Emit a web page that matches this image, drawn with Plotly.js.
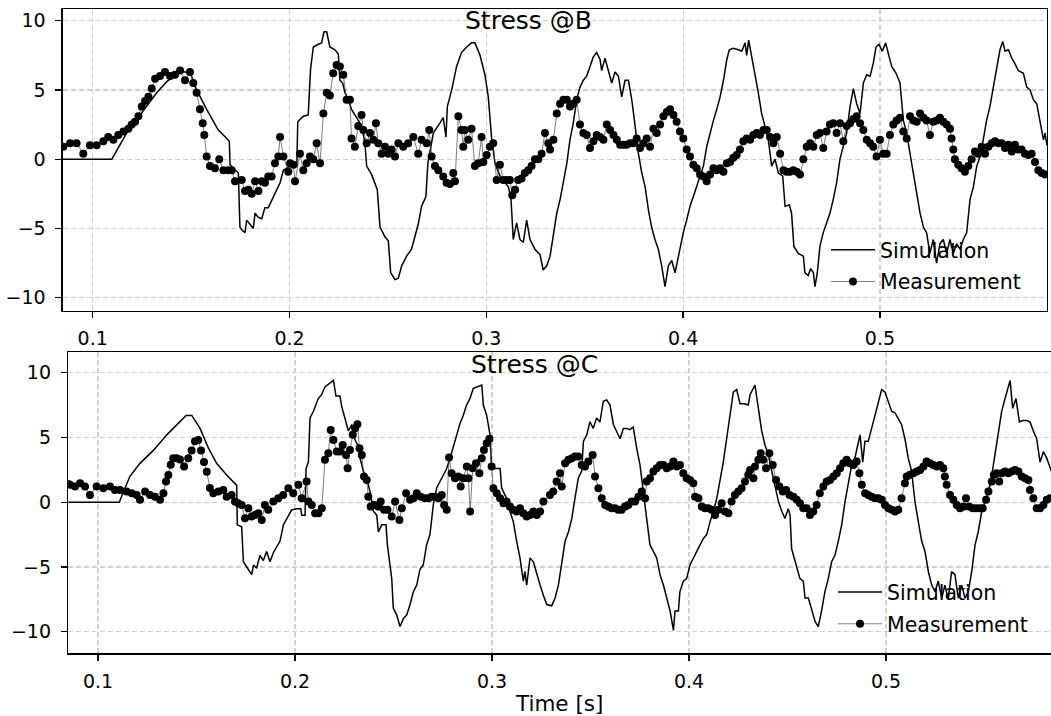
<!DOCTYPE html>
<html>
<head>
<meta charset="utf-8">
<script src="https://cdn.plot.ly/plotly-3.0.1.min.js"></script>
<style>
html,body{margin:0;padding:0;background:#ffffff;}
#chart{width:1051px;height:716px;}
</style>
</head>
<body>
<div id="chart"></div>
<script>
// ---------- Stress @B : simulation ----------
const timeSimB = [0.0849,0.1097,0.1173,0.1257,0.1325,0.1376,0.1444,0.1494,0.1528,0.1579,0.1638,0.1681,0.1694,0.1698,0.1740,0.1748,0.1757,0.1774,0.1782,0.1799,0.1816,0.1825,0.1842,0.1859,0.1875,0.1892,0.1909,0.1935,0.1952,0.1969,0.2003,0.2037,0.2042,0.2070,0.2095,0.2107,0.2121,0.2146,0.2163,0.2175,0.2189,0.2205,0.2231,0.2248,0.2256,0.2270,0.2282,0.2299,0.2315,0.2341,0.2366,0.2383,0.2392,0.2417,0.2446,0.2460,0.2485,0.2502,0.2514,0.2536,0.2553,0.2570,0.2595,0.2620,0.2637,0.2654,0.2671,0.2693,0.2703,0.2717,0.2731,0.2764,0.2781,0.2795,0.2802,0.2824,0.2849,0.2874,0.2900,0.2925,0.2942,0.2968,0.2993,0.3010,0.3027,0.3044,0.3069,0.3112,0.3125,0.3137,0.3154,0.3171,0.3188,0.3205,0.3222,0.3247,0.3273,0.3289,0.3307,0.3324,0.3341,0.3358,0.3375,0.3392,0.3409,0.3425,0.3442,0.3459,0.3476,0.3493,0.3510,0.3527,0.3544,0.3561,0.3578,0.3586,0.3603,0.3620,0.3637,0.3654,0.3671,0.3688,0.3705,0.3722,0.3739,0.3756,0.3773,0.3790,0.3807,0.3824,0.3840,0.3857,0.3874,0.3891,0.3908,0.3925,0.3942,0.3959,0.3971,0.3984,0.4001,0.4018,0.4035,0.4052,0.4069,0.4086,0.4103,0.4120,0.4137,0.4154,0.4171,0.4188,0.4205,0.4222,0.4235,0.4255,0.4281,0.4298,0.4315,0.4323,0.4333,0.4349,0.4366,0.4382,0.4399,0.4416,0.4433,0.4450,0.4467,0.4484,0.4506,0.4518,0.4540,0.4551,0.4563,0.4585,0.4611,0.4619,0.4636,0.4648,0.4662,0.4670,0.4682,0.4695,0.4712,0.4729,0.4746,0.4763,0.4780,0.4797,0.4814,0.4831,0.4848,0.4865,0.4882,0.4899,0.4916,0.4933,0.4950,0.4966,0.4980,0.4995,0.5012,0.5029,0.5043,0.5060,0.5082,0.5102,0.5119,0.5136,0.5153,0.5170,0.5187,0.5204,0.5221,0.5237,0.5254,0.5271,0.5288,0.5305,0.5322,0.5339,0.5356,0.5373,0.5390,0.5407,0.5424,0.5441,0.5458,0.5475,0.5492,0.5509,0.5525,0.5542,0.5559,0.5576,0.5593,0.5610,0.5624,0.5636,0.5653,0.5670,0.5686,0.5703,0.5729,0.5746,0.5763,0.5780,0.5797,0.5814,0.5831,0.5839,0.5849];
const stressSimB = [0,0,1.9,3.5,4.8,5.6,6.3,6.3,5.0,3.6,2.1,1.5,1.3,-0.4,-1.0,-4.9,-5.1,-5.3,-4.4,-4.7,-5.0,-3.9,-4.2,-4.3,-3.5,-3.5,-3.0,-2.2,-1.7,-0.8,-0.5,-0.5,2.7,3.1,3.2,6.5,8.1,8.3,8.4,9.2,9.2,8.1,7.9,7.6,5.7,5.5,4.8,4.3,3.6,3.0,2.4,1.2,-0.5,-1.1,-2.2,-4.9,-5.6,-5.9,-8.2,-8.7,-8.6,-7.7,-7.0,-6.5,-5.6,-4.7,-3.4,-2.7,-0.3,0.9,1.9,2.6,3.0,1.6,3.8,5.0,6.7,7.7,8.1,8.4,8.4,7.5,6.1,4.5,1.5,-0.3,-1.2,-2.0,-2.8,-5.8,-4.6,-5.8,-6.0,-4.4,-5.8,-6.5,-6.9,-8.0,-7.7,-7.0,-5.3,-3.9,-2.9,-1.7,-0.3,1.4,2.6,4.3,5.2,5.7,6.0,6.7,7.4,7.7,7.2,6.4,7.3,6.4,5.5,6.3,6.0,4.5,5.7,5.7,4.3,2.4,0.4,-1.0,-2.0,-3.7,-4.9,-5.8,-6.5,-7.7,-9.2,-7.7,-7.3,-8.2,-7.3,-6.3,-5.3,-4.4,-3.4,-2.7,-2.0,-1.3,-0.5,0.9,1.9,2.8,3.6,4.5,5.7,7.2,7.9,8.0,7.9,7.8,8.4,7.5,8.6,7.4,6.2,4.8,3.3,2.4,1.4,-0.5,0.0,-1.0,-1.2,-3.4,-3.3,-3.9,-6.3,-6.8,-7.0,-8.2,-8.4,-7.9,-8.2,-9.2,-8.2,-6.3,-5.3,-4.6,-3.9,-2.9,-1.7,0.0,0.9,1.9,3.8,5.1,4.0,3.3,5.5,6.1,6.0,6.9,8.1,8.3,7.8,8.4,7.6,6.7,6.2,5.5,2.8,1.9,0.4,-1.0,-2.5,-3.9,-4.9,-5.3,-6.8,-5.8,-7.5,-6.1,-5.8,-6.8,-5.8,-6.8,-6.1,-6.5,-5.8,-5.3,-2.9,-2.0,-0.5,0.2,1.4,2.8,3.8,5.2,6.7,7.9,8.5,7.8,7.9,7.3,6.9,6.4,6.2,5.2,5.0,4.3,4.0,2.8,1.4,1.9,1.0];

// ---------- Stress @B : measurement ----------
const timeMeasB = [0.0851,0.0885,0.0918,0.0952,0.0986,0.1020,0.1054,0.1079,0.1105,0.1130,0.1156,0.1181,0.1198,0.1215,0.1232,0.1249,0.1266,0.1283,0.1300,0.1317,0.1342,0.1367,0.1393,0.1418,0.1444,0.1469,0.1494,0.1511,0.1528,0.1545,0.1559,0.1567,0.1579,0.1596,0.1621,0.1643,0.1664,0.1689,0.1706,0.1723,0.1757,0.1774,0.1791,0.1808,0.1825,0.1842,0.1859,0.1875,0.1892,0.1909,0.1926,0.1943,0.1952,0.1969,0.1994,0.2003,0.2020,0.2028,0.2053,0.2070,0.2087,0.2104,0.2121,0.2138,0.2155,0.2172,0.2189,0.2205,0.2222,0.2239,0.2256,0.2273,0.2290,0.2307,0.2315,0.2332,0.2349,0.2366,0.2375,0.2392,0.2409,0.2426,0.2439,0.2451,0.2468,0.2485,0.2502,0.2519,0.2536,0.2553,0.2578,0.2603,0.2629,0.2654,0.2671,0.2697,0.2710,0.2722,0.2739,0.2756,0.2781,0.2798,0.2815,0.2832,0.2841,0.2858,0.2874,0.2883,0.2891,0.2908,0.2925,0.2942,0.2959,0.2976,0.2985,0.3002,0.3018,0.3035,0.3052,0.3069,0.3086,0.3103,0.3120,0.3132,0.3146,0.3162,0.3179,0.3196,0.3213,0.3230,0.3247,0.3264,0.3281,0.3298,0.3315,0.3324,0.3341,0.3358,0.3375,0.3392,0.3409,0.3425,0.3442,0.3459,0.3476,0.3493,0.3510,0.3527,0.3544,0.3561,0.3578,0.3595,0.3612,0.3629,0.3646,0.3663,0.3680,0.3696,0.3713,0.3730,0.3747,0.3764,0.3781,0.3798,0.3815,0.3832,0.3849,0.3866,0.3883,0.3900,0.3917,0.3934,0.3951,0.3967,0.3984,0.4001,0.4018,0.4035,0.4052,0.4069,0.4086,0.4103,0.4120,0.4137,0.4154,0.4171,0.4188,0.4205,0.4222,0.4239,0.4255,0.4272,0.4289,0.4306,0.4323,0.4340,0.4357,0.4374,0.4391,0.4408,0.4425,0.4442,0.4459,0.4476,0.4493,0.4510,0.4526,0.4543,0.4560,0.4577,0.4594,0.4611,0.4628,0.4645,0.4662,0.4679,0.4695,0.4712,0.4729,0.4746,0.4763,0.4780,0.4797,0.4814,0.4831,0.4848,0.4865,0.4882,0.4899,0.4916,0.4933,0.4950,0.4966,0.4983,0.5000,0.5017,0.5034,0.5051,0.5068,0.5085,0.5102,0.5119,0.5136,0.5153,0.5170,0.5187,0.5204,0.5221,0.5237,0.5254,0.5271,0.5288,0.5305,0.5322,0.5339,0.5356,0.5364,0.5373,0.5381,0.5398,0.5415,0.5432,0.5449,0.5466,0.5483,0.5500,0.5517,0.5534,0.5551,0.5568,0.5585,0.5602,0.5619,0.5636,0.5653,0.5670,0.5686,0.5703,0.5720,0.5737,0.5754,0.5771,0.5788,0.5805,0.5822,0.5839];
const stressMeasB = [0.9,1.15,1.15,0.4,1.0,1.0,1.3,1.6,1.4,1.75,2.0,2.2,2.5,2.7,3.1,3.8,4.2,4.5,5.1,5.8,6.0,6.3,6.0,6.1,6.4,5.7,6.3,5.5,4.8,3.6,2.6,1.75,0.2,-0.5,-0.65,0.0,-0.8,-0.8,-0.8,-1.6,-1.5,-2.3,-2.2,-2.5,-1.6,-2.3,-1.6,-1.7,-1.25,-1.25,-0.3,0.2,1.6,0.2,-0.9,-0.3,-0.4,-1.6,0.4,-0.8,-0.3,0.2,0.0,1.15,-0.3,3.3,4.8,4.6,6.2,6.8,6.7,6.1,4.3,4.3,1.5,0.9,2.4,3.2,2.1,1.15,1.9,1.4,2.6,1.15,0.4,0.9,0.4,0.7,0.2,1.15,0.9,1.15,1.6,0.4,1.4,1.15,2.1,0.2,-0.5,-0.8,-1.25,-1.7,-1.8,-1.0,-1.6,3.1,2.1,0.9,2.1,1.4,2.2,-0.5,-0.3,1.6,-0.2,0.3,0.9,1.15,-1.5,-0.4,-1.5,-1.5,-1.5,-2.6,-2.2,-1.5,-1.4,-1.0,-0.8,-0.5,0.0,0.0,0.4,1.9,1.15,0.7,1.4,3.3,4.0,4.3,4.3,3.8,4.0,4.3,2.5,1.9,1.75,0.8,1.3,1.75,1.6,1.4,2.5,2.1,1.75,1.4,1.05,1.05,1.05,1.15,1.15,1.5,0.8,1.15,1.5,0.9,2.2,1.9,2.5,3.1,3.4,3.6,3.2,2.7,2.0,1.5,0.7,0.2,-0.4,-0.65,-1.1,-1.25,-1.6,-1.1,-0.65,-0.8,-0.65,-0.9,-0.3,-0.2,0.1,0.3,0.7,1.3,1.5,1.4,1.75,1.9,1.75,2.1,2.1,1.6,1.15,1.6,0.4,-0.8,-0.9,-0.9,-0.8,-0.9,-1.1,0.0,0.9,1.15,0.9,1.75,1.9,0.8,2.0,2.5,2.6,1.9,2.6,1.3,2.4,2.6,2.9,3.1,2.6,2.1,1.4,1.15,0.9,0.2,1.4,0.4,0.4,1.75,2.5,2.8,3.0,2.0,1.5,3.1,2.8,2.7,3.3,3.0,2.8,1.75,2.7,2.8,3.0,2.7,2.5,2.2,1.5,0.7,0.0,-0.4,-0.65,-0.9,-0.5,0.0,0.55,0.4,0.9,0.4,0.9,1.15,1.3,1.15,1.15,0.8,1.05,0.55,1.05,0.7,0.7,0.4,0.3,0.4,-0.2,-0.8,-1.0,-1.1];

// ---------- Stress @C : simulation ----------
const timeSimC = [0.0849,0.1108,0.1137,0.1162,0.1213,0.1281,0.1349,0.1399,0.1447,0.1476,0.1518,0.1560,0.1602,0.1653,0.1704,0.1707,0.1729,0.1738,0.1755,0.1780,0.1789,0.1805,0.1822,0.1839,0.1856,0.1873,0.1890,0.1915,0.1924,0.1941,0.1958,0.1983,0.2009,0.2029,0.2034,0.2051,0.2056,0.2068,0.2076,0.2093,0.2118,0.2135,0.2152,0.2177,0.2195,0.2208,0.2228,0.2237,0.2254,0.2271,0.2288,0.2305,0.2322,0.2330,0.2347,0.2364,0.2381,0.2398,0.2415,0.2423,0.2440,0.2462,0.2469,0.2479,0.2491,0.2499,0.2516,0.2533,0.2550,0.2567,0.2584,0.2601,0.2618,0.2634,0.2651,0.2668,0.2685,0.2702,0.2719,0.2736,0.2753,0.2770,0.2787,0.2804,0.2821,0.2838,0.2854,0.2871,0.2888,0.2905,0.2922,0.2948,0.2956,0.2973,0.2990,0.2998,0.3024,0.3041,0.3049,0.3074,0.3091,0.3108,0.3125,0.3142,0.3159,0.3167,0.3176,0.3193,0.3210,0.3227,0.3244,0.3261,0.3278,0.3303,0.3320,0.3337,0.3354,0.3371,0.3388,0.3405,0.3421,0.3438,0.3455,0.3464,0.3481,0.3497,0.3514,0.3531,0.3548,0.3565,0.3582,0.3599,0.3616,0.3633,0.3650,0.3667,0.3683,0.3700,0.3717,0.3734,0.3751,0.3768,0.3785,0.3802,0.3819,0.3836,0.3853,0.3870,0.3887,0.3904,0.3921,0.3929,0.3946,0.3954,0.3971,0.3988,0.4005,0.4022,0.4039,0.4056,0.4073,0.4090,0.4107,0.4124,0.4141,0.4157,0.4174,0.4191,0.4208,0.4217,0.4225,0.4242,0.4259,0.4284,0.4301,0.4310,0.4335,0.4352,0.4369,0.4386,0.4403,0.4420,0.4437,0.4454,0.4471,0.4487,0.4504,0.4513,0.4521,0.4538,0.4563,0.4580,0.4589,0.4606,0.4623,0.4640,0.4656,0.4673,0.4690,0.4707,0.4724,0.4741,0.4758,0.4775,0.4792,0.4809,0.4826,0.4842,0.4860,0.4868,0.4882,0.4893,0.4910,0.4927,0.4944,0.4961,0.4978,0.4995,0.5012,0.5029,0.5046,0.5062,0.5079,0.5096,0.5113,0.5130,0.5147,0.5164,0.5181,0.5198,0.5215,0.5232,0.5249,0.5265,0.5283,0.5299,0.5316,0.5333,0.5350,0.5367,0.5384,0.5401,0.5418,0.5435,0.5452,0.5468,0.5486,0.5503,0.5520,0.5537,0.5553,0.5570,0.5587,0.5604,0.5621,0.5630,0.5643,0.5660,0.5677,0.5694,0.5714,0.5731,0.5748,0.5765,0.5782,0.5799,0.5816,0.5833,0.5840];
const stressSimC = [0,0,1.1,2.0,3.0,4.0,5.2,6.0,6.7,6.7,5.7,4.2,3.0,2.1,1.3,-1.75,-1.9,-4.6,-5.0,-5.6,-4.85,-5.1,-4.1,-4.5,-3.8,-4.6,-3.9,-3.3,-3.0,-1.75,-1.25,-0.6,-0.5,-0.5,-1.0,-1.0,2.6,3.1,6.5,7.0,8.0,8.3,8.9,9.2,9.4,8.2,8.2,7.4,6.5,5.5,6.0,4.8,4.3,3.4,2.4,1.85,0.8,-0.7,-1.0,-2.3,-1.75,-1.75,-3.3,-4.7,-5.9,-8.2,-8.7,-9.6,-9.0,-8.7,-7.9,-6.9,-6.4,-5.2,-4.85,-3.3,-2.5,-0.2,1.1,1.6,2.1,2.6,3.4,4.4,5.2,6.1,6.7,7.5,8.0,8.8,8.9,9.05,7.5,6.7,5.2,2.6,2.6,2.6,1.1,0.3,-0.7,-1.5,-3.0,-4.3,-6.1,-5.35,-6.4,-4.3,-4.6,-5.6,-6.4,-7.2,-7.9,-8.0,-7.4,-6.4,-4.85,-3.0,-2.3,-1.25,0.3,1.85,2.4,4.7,5.2,6.2,5.7,6.5,6.2,7.8,7.9,7.5,6.0,5.5,4.9,5.7,5.7,5.6,5.8,4.2,2.9,0.8,-1.25,-3.3,-3.8,-4.3,-5.6,-6.4,-7.4,-8.4,-9.9,-8.4,-8.4,-6.9,-6.1,-5.9,-4.85,-4.3,-3.8,-3.3,-2.8,-2.5,-1.5,-0.7,0.3,1.6,3.1,4.9,6.7,8.0,8.5,8.7,7.6,7.6,7.5,8.3,9.05,7.25,5.5,4.4,3.7,2.4,1.1,0.05,-0.7,-1.25,-0.5,-1.0,-3.6,-4.6,-5.9,-6.1,-7.4,-7.4,-8.4,-9.2,-9.6,-8.4,-6.9,-5.9,-4.6,-4.1,-3.0,-1.75,0.05,1.6,2.9,3.4,4.7,5.2,3.1,4.7,4.7,5.7,6.7,7.8,8.7,8.5,7.8,7.0,6.9,6.5,6.0,4.9,3.4,2.4,0.05,-1.5,-3.0,-3.8,-5.35,-6.4,-6.9,-6.1,-7.4,-6.4,-7.5,-5.35,-5.6,-7.4,-6.4,-7.4,-6.9,-5.35,-3.3,-2.3,-0.7,0.05,0.8,2.1,3.7,5.5,7.0,8.0,8.8,9.4,7.25,8.0,6.2,6.3,6.3,6.2,5.5,4.9,3.1,3.9,3.4,2.6,2.4];

// ---------- Stress @C : measurement ----------
const timeMeasC = [0.0849,0.0858,0.0883,0.0909,0.0934,0.0959,0.0993,0.1027,0.1061,0.1086,0.1112,0.1145,0.1171,0.1196,0.1213,0.1239,0.1264,0.1289,0.1315,0.1332,0.1345,0.1357,0.1369,0.1382,0.1399,0.1416,0.1437,0.1458,0.1475,0.1492,0.1509,0.1523,0.1538,0.1552,0.1568,0.1585,0.1611,0.1636,0.1653,0.1678,0.1695,0.1712,0.1729,0.1746,0.1763,0.1780,0.1797,0.1814,0.1831,0.1847,0.1864,0.1890,0.1915,0.1940,0.1966,0.1991,0.2017,0.2034,0.2059,0.2068,0.2085,0.2102,0.2119,0.2136,0.2152,0.2169,0.2181,0.2195,0.2212,0.2229,0.2242,0.2259,0.2267,0.2279,0.2293,0.2305,0.2317,0.2327,0.2339,0.2350,0.2364,0.2372,0.2384,0.2401,0.2423,0.2435,0.2452,0.2469,0.2491,0.2508,0.2530,0.2542,0.2564,0.2584,0.2601,0.2618,0.2638,0.2660,0.2677,0.2694,0.2711,0.2728,0.2745,0.2757,0.2770,0.2782,0.2795,0.2812,0.2829,0.2841,0.2855,0.2872,0.2880,0.2889,0.2902,0.2919,0.2936,0.2948,0.2959,0.2973,0.2987,0.2998,0.3007,0.3024,0.3041,0.3058,0.3074,0.3091,0.3108,0.3125,0.3142,0.3159,0.3176,0.3193,0.3210,0.3227,0.3244,0.3261,0.3294,0.3311,0.3328,0.3345,0.3354,0.3371,0.3388,0.3405,0.3421,0.3438,0.3455,0.3472,0.3489,0.3511,0.3523,0.3540,0.3557,0.3574,0.3591,0.3607,0.3624,0.3641,0.3658,0.3675,0.3692,0.3709,0.3726,0.3743,0.3760,0.3777,0.3785,0.3802,0.3819,0.3836,0.3853,0.3870,0.3887,0.3904,0.3921,0.3938,0.3954,0.3971,0.3988,0.4005,0.4022,0.4031,0.4048,0.4065,0.4081,0.4098,0.4115,0.4132,0.4149,0.4166,0.4183,0.4200,0.4216,0.4233,0.4250,0.4267,0.4284,0.4301,0.4310,0.4327,0.4335,0.4352,0.4364,0.4377,0.4391,0.4408,0.4425,0.4442,0.4459,0.4476,0.4493,0.4510,0.4530,0.4547,0.4563,0.4580,0.4597,0.4614,0.4631,0.4648,0.4664,0.4682,0.4699,0.4716,0.4733,0.4750,0.4767,0.4783,0.4800,0.4817,0.4834,0.4851,0.4865,0.4877,0.4894,0.4910,0.4927,0.4944,0.4961,0.4978,0.4995,0.5012,0.5029,0.5046,0.5062,0.5079,0.5096,0.5105,0.5122,0.5139,0.5156,0.5173,0.5190,0.5206,0.5223,0.5240,0.5257,0.5274,0.5291,0.5299,0.5308,0.5325,0.5342,0.5359,0.5376,0.5393,0.5406,0.5423,0.5440,0.5457,0.5474,0.5491,0.5508,0.5520,0.5537,0.5548,0.5562,0.5575,0.5587,0.5604,0.5621,0.5638,0.5655,0.5672,0.5689,0.5706,0.5723,0.5731,0.5748,0.5765,0.5782,0.5799,0.5816,0.5833];
const stressMeasC = [1.4,1.34,1.21,1.46,1.21,0.56,1.21,1.08,1.21,0.95,0.95,0.82,0.69,0.56,0.18,0.82,0.56,0.43,0.18,0.69,1.6,2.1,2.9,3.4,3.4,3.3,2.75,3.4,4.0,4.7,4.8,4.0,3.1,2.35,1.1,0.69,0.82,0.95,0.43,0.56,0.05,-0.08,-0.21,-1.24,-0.47,-1.11,-0.98,-0.85,-1.37,-0.21,-0.59,0.05,0.31,0.56,1.08,0.69,1.34,0.31,1.59,0.05,-0.21,-0.85,-0.85,-0.47,3.27,3.78,5.58,4.81,3.91,3.91,4.42,3.65,2.62,4.04,5.2,5.71,6.02,4.17,3.65,1.98,1.72,0.43,-0.34,-0.21,-0.34,0.05,-0.59,-0.59,-1.11,0.05,-1.37,-0.47,0.69,0.18,0.31,0.69,0.43,0.31,0.31,0.43,0.43,0.31,0.56,-0.21,-0.59,3.45,2.24,1.85,1.98,1.21,1.85,2.75,1.85,-0.72,2.62,3.01,2.24,3.4,4.04,4.55,4.89,2.75,1.08,0.69,0.31,-0.08,0.05,-0.34,-0.59,-0.72,-0.47,-0.85,-1.11,-0.98,-0.72,-0.98,-0.72,0.05,0.56,0.82,1.59,2.24,1.21,3.01,3.27,3.4,3.52,3.52,2.88,2.75,3.14,3.65,1.98,1.08,0.31,-0.21,-0.34,-0.47,-0.47,-0.59,-0.59,-0.34,-0.21,0.05,0.05,0.43,0.82,0.31,1.59,1.85,2.37,2.62,2.88,2.88,2.62,2.75,3.14,2.75,2.88,2.24,1.85,1.72,1.46,0.43,0.31,-0.34,-0.47,-0.47,-0.59,-0.98,-0.59,-0.08,-0.72,-0.85,0.05,0.56,0.82,1.08,1.59,2.11,2.49,1.85,2.75,3.27,3.78,3.27,2.62,3.78,2.88,1.72,1.21,0.82,0.95,0.56,0.43,0.18,-0.08,-0.47,-0.47,-0.98,-0.72,-0.21,0.69,1.21,1.59,1.72,1.98,2.24,2.62,3.01,3.27,3.01,2.88,3.14,2.24,1.34,0.69,0.56,0.43,0.31,0.31,0.18,-0.21,-0.47,-0.59,-0.72,-0.59,0.31,1.46,1.98,2.11,2.24,2.37,2.49,2.75,3.14,3.01,2.88,2.75,2.88,2.62,1.98,1.34,0.56,0.18,-0.21,-0.47,-0.34,0.31,-0.34,-0.47,-0.47,-0.47,-0.47,0.18,0.82,1.59,2.11,2.24,1.59,2.24,2.37,2.24,2.37,2.49,2.37,1.98,1.85,1.72,0.95,0.31,-0.47,-0.47,-0.21,0.18,0.31];

// ---------- labels ----------
const titleB = 'Stress @B';
const titleC = 'Stress @C';
const seriesNames = ['Simulation', 'Measurement'];
const xLabel = 'Time [s]';
const xTickVals = [0.1, 0.2, 0.3, 0.4, 0.5];
const xTickText = ['0.1', '0.2', '0.3', '0.4', '0.5'];
const yTickVals = [-10, -5, 0, 5, 10];
const yTickText = ['\u221210', '\u22125', '0', '5', '10'];

const FONT = 'DejaVu Sans, Bitstream Vera Sans, sans-serif';

const simStyle = {color: '#000000', width: 1.5};
const measLine = {color: '#444444', width: 0.7};
const measMarker = {color: '#000000', size: 8, line: {width: 0}};

const traces = [
  {x: timeSimB, y: stressSimB, xaxis: 'x', yaxis: 'y', type: 'scatter', mode: 'lines',
   name: seriesNames[0], line: simStyle, legend: 'legend', legendgroup: 'simB'},
  {x: timeMeasB, y: stressMeasB, xaxis: 'x', yaxis: 'y', type: 'scatter', mode: 'lines+markers',
   name: seriesNames[1], line: measLine, marker: measMarker, legend: 'legend', legendgroup: 'measB'},
  {x: timeSimC, y: stressSimC, xaxis: 'x2', yaxis: 'y2', type: 'scatter', mode: 'lines',
   name: seriesNames[0], line: simStyle, legend: 'legend2', legendgroup: 'simC'},
  {x: timeMeasC, y: stressMeasC, xaxis: 'x2', yaxis: 'y2', type: 'scatter', mode: 'lines+markers',
   name: seriesNames[1], line: measLine, marker: measMarker, legend: 'legend2', legendgroup: 'measC'}
];

function axis(extra) {
  return Object.assign({
    showline: true, linecolor: '#000000', linewidth: 1.5, mirror: true,
    ticks: 'outside', ticklen: 6, tickwidth: 1.3, tickcolor: '#000000',
    showgrid: true, gridcolor: '#d0d0d0', gridwidth: 1.2, griddash: '5px,3px',
    zeroline: false, automargin: false,
    tickfont: {family: FONT, size: 19, color: '#000000'}
  }, extra);
}

const legendBase = {
  xanchor: 'left', yanchor: 'top', bgcolor: 'rgba(0,0,0,0)', borderwidth: 0,
  font: {family: FONT, size: 20.5, color: '#000000'}, itemwidth: 44,
  traceorder: 'grouped', tracegroupgap: 2
};

const layout = {
  width: 1051, height: 716,
  margin: {l: 0, r: 0, t: 0, b: 0, pad: 0},
  paper_bgcolor: '#ffffff', plot_bgcolor: '#ffffff',
  font: {family: FONT, color: '#000000'},
  showlegend: true,
  xaxis: axis({domain: [0.05994, 0.99619], range: [0.0849, 0.5849], anchor: 'y',
    tickvals: xTickVals, ticktext: xTickText, ticklabelstandoff: 4}),
  yaxis: axis({domain: [0.56606, 0.98743], range: [-10.94, 10.845], anchor: 'x',
    tickvals: yTickVals, ticktext: yTickText, ticklabelstandoff: 6}),
  xaxis2: axis({domain: [0.065, 1.0], range: [0.08492, 0.58376], anchor: 'y2',
    tickvals: xTickVals, ticktext: xTickText, ticklabelstandoff: 4,
    title: {text: xLabel, font: {family: FONT, size: 21.5, color: '#000000'}, standoff: 10}}),
  yaxis2: axis({domain: [0.08757, 0.50796], range: [-11.668, 11.575], anchor: 'x2',
    tickvals: yTickVals, ticktext: yTickText, ticklabelstandoff: 6}),
  legend: Object.assign({x: 0.7859, y: 0.6788}, legendBase),
  legend2: Object.assign({x: 0.7926, y: 0.2007}, legendBase),
  annotations: [
    {text: titleB, xref: 'paper', yref: 'paper', x: 0.5033, y: 0.9707, xanchor: 'center', yanchor: 'middle',
     showarrow: false, font: {family: FONT, size: 25, color: '#000000'}},
    {text: titleC, xref: 'paper', yref: 'paper', x: 0.5081, y: 0.4908, xanchor: 'center', yanchor: 'middle',
     showarrow: false, font: {family: FONT, size: 25, color: '#000000'}}
  ]
};

Plotly.newPlot('chart', traces, layout, {displayModeBar: false, staticPlot: true});
</script>
</body>
</html>
